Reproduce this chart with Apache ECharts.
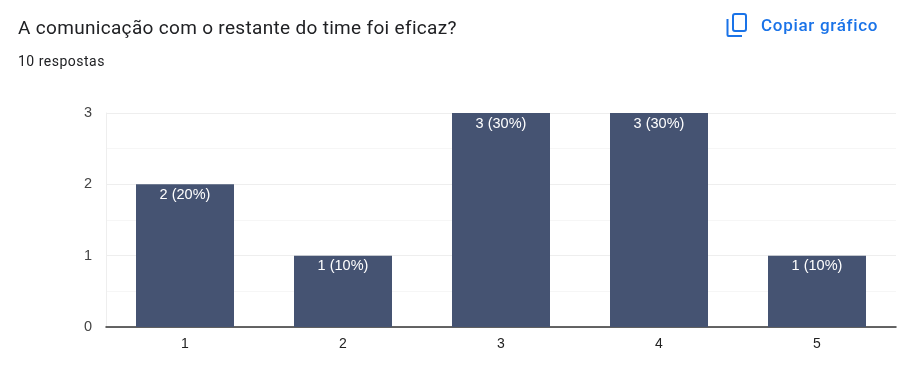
<!DOCTYPE html>
<html>
<head>
<meta charset="utf-8">
<style>
  html, body { margin: 0; padding: 0; background: #fff; }
  body { position: relative; width: 904px; height: 381px; overflow: hidden; font-family: Roboto, sans-serif; }
  #chart { position: absolute; left: 0; top: 0; width: 904px; height: 381px; }
  .header { position: absolute; white-space: nowrap; z-index: 2; }
  .titulo { left: 18px; top: 16px; font-size: 19px; line-height: 24px; letter-spacing: 0.32px; color: #202124; }
  .total { left: 18px; top: 52px; font-size: 14px; line-height: 18px; letter-spacing: 0.5px; color: #202124; }
  .copiar { left: 761px; top: 14px; font-size: 17px; line-height: 22px; font-weight: 500; letter-spacing: 0.7px; color: #1a73e8; }
  .icone { left: 724px; top: 12px; width: 26px; height: 27px; }
</style>
<script src="https://cdn.jsdelivr.net/npm/echarts@6/dist/echarts.min.js"></script>
</head>
<body>
<div class="header titulo">A comunicação com o restante do time foi eficaz?</div>
<div class="header total">10 respostas</div>
<svg class="header icone" viewBox="0 0 26 27">
  <rect x="9" y="2" width="13" height="17" rx="2" fill="none" stroke="#1a73e8" stroke-width="2"/>
  <path d="M3.5 7V23a1 1 0 0 0 1 1H18" fill="none" stroke="#1a73e8" stroke-width="2"/>
</svg>
<div class="header copiar">Copiar gráfico</div>
<div id="chart"></div>
<script>
const categories = ['1', '2', '3', '4', '5'];
const respostas = [2, 1, 3, 3, 1];
const percentuais = [20, 10, 30, 30, 10];
const yTicks = [0, 1, 2, 3];

const chart = echarts.init(document.getElementById('chart'), null, { renderer: 'canvas' });

chart.setOption({
  animation: false,
  grid: { left: 106, right: 8, top: 113, bottom: 54 },
  xAxis: {
    type: 'category',
    data: categories,
    axisLine: { lineStyle: { color: '#333', width: 1.5 } },
    axisTick: { show: false },
    axisLabel: { color: '#222', fontFamily: 'Liberation Sans', fontSize: 14, margin: 10 },
    splitLine: { show: false }
  },
  yAxis: {
    type: 'value',
    min: yTicks[0],
    max: yTicks[yTicks.length - 1],
    interval: 1,
    axisLine: { show: true, onZero: false, lineStyle: { color: '#eeeeee', width: 1 } },
    axisTick: { show: false },
    axisLabel: { color: '#444', fontFamily: 'Liberation Sans', fontSize: 14.5, margin: 14, verticalAlign: 'middle', lineHeight: 18, padding: [3, 0, 0, 0] },
    splitLine: { show: true, lineStyle: { color: '#eeeeee', width: 1 } },
    minorTick: { show: false, splitNumber: 2 },
    minorSplitLine: { show: true, lineStyle: { color: '#f6f6f6', width: 1 } }
  },
  series: [{
    type: 'bar',
    data: respostas,
    barWidth: 98,
    itemStyle: { color: '#455372' },
    label: {
      show: true,
      position: 'insideTop',
      distance: 3,
      color: '#fff',
      fontFamily: 'Liberation Sans',
      fontSize: 14.5,
      formatter: p => p.value + ' (' + percentuais[p.dataIndex] + '%)'
    }
  }]
});
</script>
</body>
</html>
